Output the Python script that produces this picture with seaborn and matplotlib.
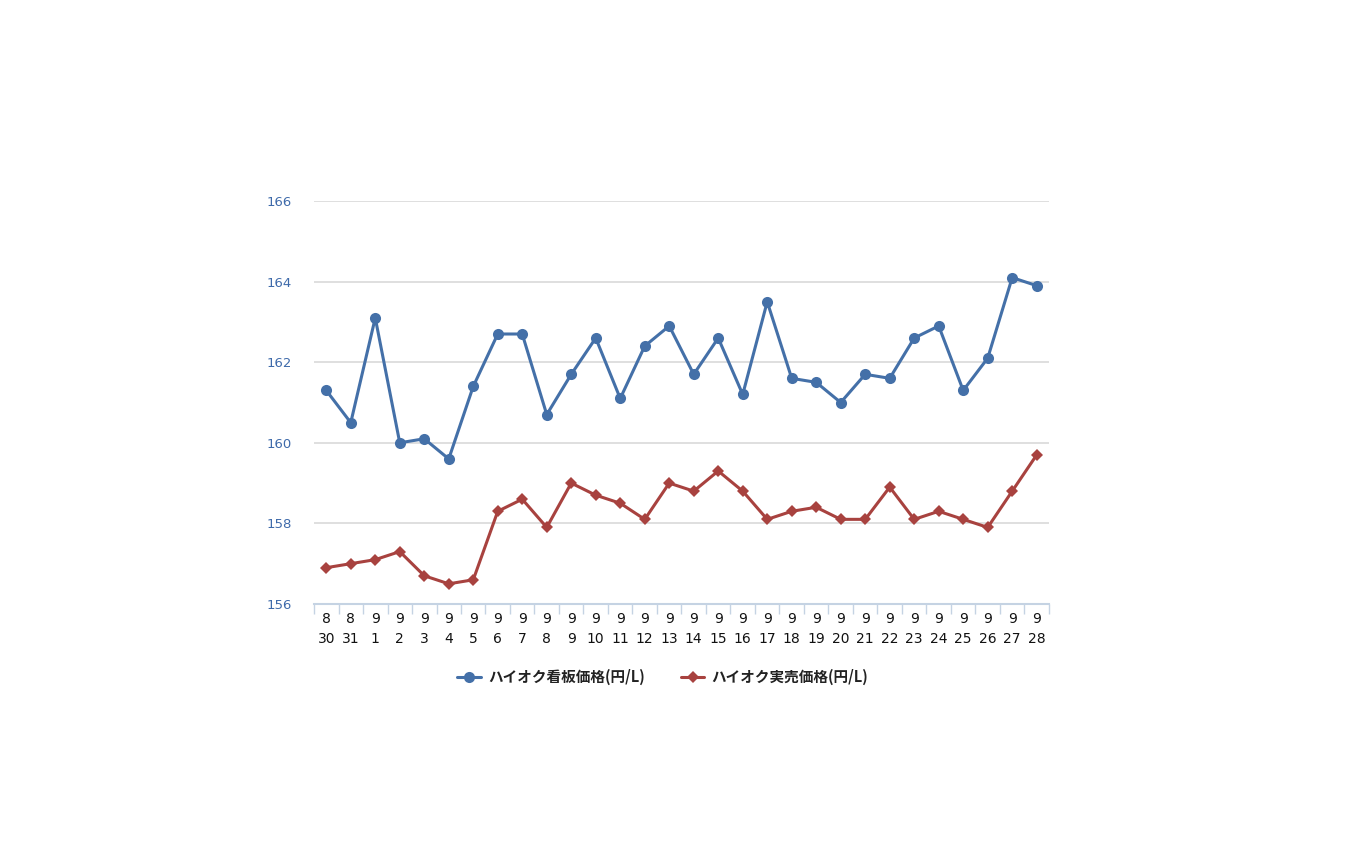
import matplotlib
matplotlib.use("Agg")
import matplotlib.pyplot as plt
import seaborn as sns
import pandas as pd
import numpy as np

dates = ["8\n30", "8\n31"] + [f"9\n{d}" for d in range(1, 29)]
posted = [161.3, 160.5, 163.1, 160.0, 160.1, 159.6, 161.4, 162.7, 162.7, 160.7,
          161.7, 162.6, 161.1, 162.4, 162.9, 161.7, 162.6, 161.2, 163.5, 161.6,
          161.5, 161.0, 161.7, 161.6, 162.6, 162.9, 161.3, 162.1, 164.1, 163.9]
actual = [156.9, 157.0, 157.1, 157.3, 156.7, 156.5, 156.6, 158.3, 158.6, 157.9,
          159.0, 158.7, 158.5, 158.1, 159.0, 158.8, 159.3, 158.8, 158.1, 158.3,
          158.4, 158.1, 158.1, 158.9, 158.1, 158.3, 158.1, 157.9, 158.8, 159.7]
series_names = ["ハイオク看板価格(円/L)", "ハイオク実売価格(円/L)"]
yticks = [156, 158, 160, 162, 164, 166]

df = pd.DataFrame({
    "idx": list(range(len(dates))) * 2,
    "price": posted + actual,
    "series": [series_names[0]] * len(dates) + [series_names[1]] * len(dates),
})

sns.set_theme(style="white")
plt.rcParams["font.family"] = ["Noto Sans CJK JP", "DejaVu Sans"]

fig = plt.figure(figsize=(13.5, 8.44), dpi=100)
ax = fig.add_axes([0.2326, 0.2844, 0.5444, 0.4774])

palette = {series_names[0]: "#4470A8", series_names[1]: "#A8423F"}
markers = {series_names[0]: "o", series_names[1]: "D"}
sns.lineplot(data=df, x="idx", y="price", hue="series", style="series",
             palette=palette, markers=markers, dashes=False, linewidth=2.2,
             markersize=8, markeredgewidth=0, ax=ax, legend=True)
for line in ax.lines:
    if line.get_marker() == "D":
        line.set_markersize(6)

ax.set_xlim(-0.5, len(dates) - 0.5)
ax.set_ylim(156, 166)
ax.set_yticks(yticks)
ax.set_yticklabels([str(v) for v in yticks], color="#3E6AAA", fontsize=9.5,
                   family=["DejaVu Sans"])
ax.set_xticks(range(len(dates)))
ax.set_xticklabels(dates, fontsize=10, color="#111111", linespacing=1.5,
                   family=["DejaVu Sans"])
ax.set_xticks(np.arange(-0.5, len(dates), 1.0), minor=True)
ax.tick_params(axis="x", which="major", bottom=True, length=0, pad=6)
ax.tick_params(axis="x", which="minor", bottom=True, length=7, width=1,
               color="#C5D3E3", direction="out")
ax.tick_params(axis="y", length=0, pad=16)
ax.set_xlabel("")
ax.set_ylabel("")
ax.grid(axis="y", color="#D9D9D9", linewidth=1.2)
ax.grid(axis="x", visible=False)
ax.set_axisbelow(True)
for s in ["left", "right", "top"]:
    ax.spines[s].set_visible(False)
ax.spines["bottom"].set_color("#C5D3E3")
ax.spines["bottom"].set_linewidth(1.5)

handles, labels = ax.get_legend_handles_labels()
ax.get_legend().remove()
for h in handles:
    if h.get_marker() == "D":
        h.set_markersize(6)
leg = fig.legend(handles, labels, loc="center", bbox_to_anchor=(0.491, 0.198),
                 ncol=2, frameon=False, fontsize=10.5, handlelength=1.6,
                 columnspacing=2.5, handletextpad=0.5)
for t in leg.get_texts():
    t.set_color("#222222")
    t.set_fontweight("bold")

fig.savefig("out.png", dpi=100, facecolor="white")
